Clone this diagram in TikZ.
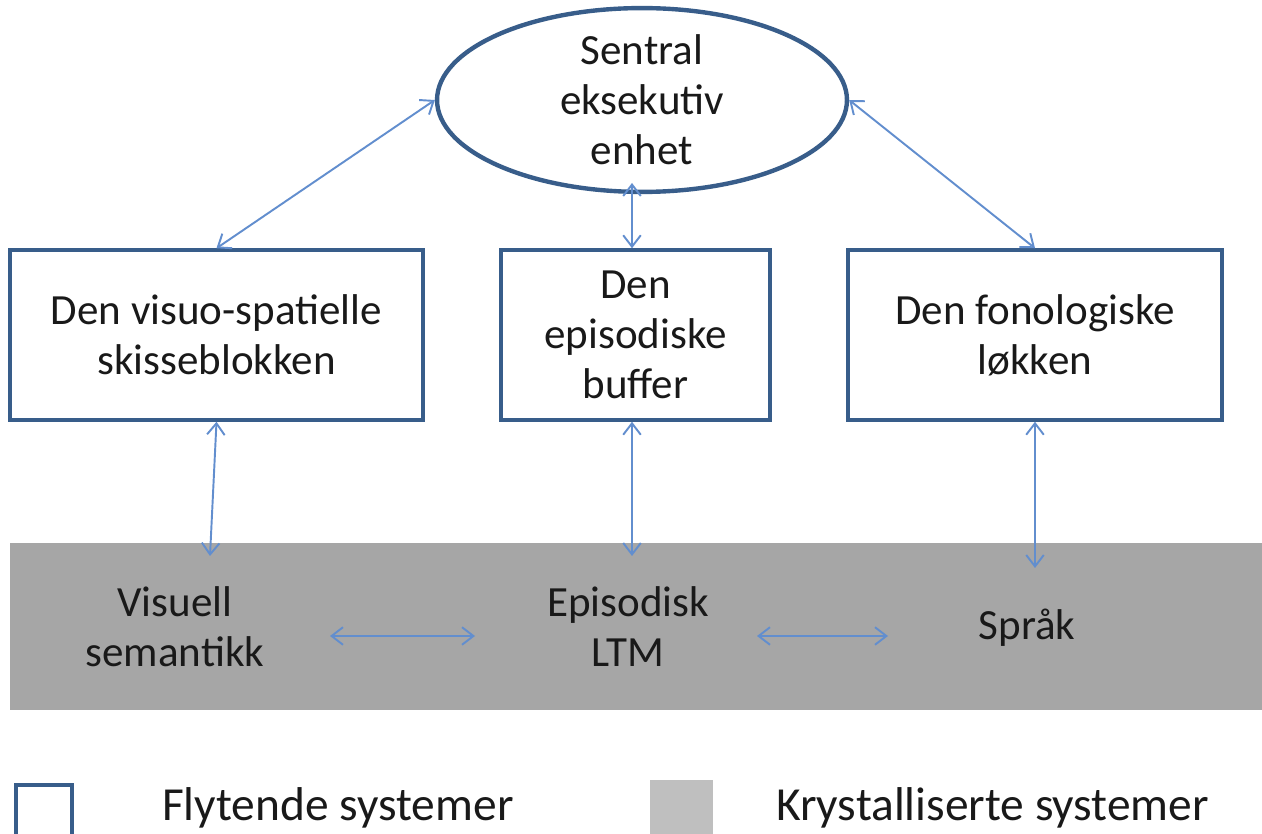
\documentclass[tikz,border=0pt]{standalone}
\usepackage{fontspec}
\setmainfont{Carlito}
\usetikzlibrary{arrows.meta,shapes.geometric}
\definecolor{frame}{RGB}{56,93,138}
\definecolor{link}{RGB}{98,142,206}
\definecolor{band}{RGB}{166,166,166}
\definecolor{lgrey}{RGB}{191,191,191}

\begin{document}
\begin{tikzpicture}[x=0.02cm,y=-0.02cm]
    \tikzset{%
      txt/.style={align=center, text=black!90,
        font=\fontsize{24.5}{28.4}\selectfont},
      box/.style={txt, draw=frame, line width=2pt, inner sep=0pt,
        minimum height=3.4cm},
      ell/.style={txt, ellipse, draw=frame, line width=2.5pt,
        inner sep=0pt, minimum width=8.2cm, minimum height=3.3cm},
      link/.style={draw=link, line width=1.1pt,
        arrows={Straight Barb[length=6.5pt,width=10pt]-Straight Barb[length=6.5pt,width=10pt]}},
      key/.style={anchor=west, text=black!90,
        font=\fontsize{27}{32}\selectfont},
    }
    \useasboundingbox (0,0) rectangle (1262,834);
    % grey band
    \node[fill=band, inner sep=0pt, minimum width=25.04cm,
      minimum height=3.34cm] (band) at (636,626.5) {};
    % central executive
    \node[ell] (ce) at (642,100) {Sentral\\eksekutiv\\enhet};
    % the three slave systems
    \node[box, minimum width=8.26cm] (vs) at (216.5,335)
      {Den visuo-spatielle\\skisseblokken};
    \node[box, minimum width=5.38cm] (eb) at (635.5,335)
      {Den\\episodiske\\buffer};
    \node[box, minimum width=7.48cm] (fl) at (1035,335)
      {Den fonologiske\\løkken};
    % crystallised systems
    \node[txt] (vis) at (175,627) {Visuell\\semantikk};
    \node[txt] (epi) at (628,627) {Episodisk\\LTM};
    \node[txt] (spr) at (1027,628) {Språk};
    \coordinate (ceb) at (632,183);
    \coordinate (vsb) at (210,556);
    \coordinate (ebb) at (632,556);
    \coordinate (flb) at (1035,568);
    \coordinate (h1) at (330,636);
    \coordinate (h2) at (475,636);
    \coordinate (h3) at (757,636);
    \coordinate (h4) at (888,636);
    % links
    \draw[link] (ce.west) -- (vs.north);
    \draw[link] (ce.east) -- (fl.north);
    \draw[link] (eb.north -| ceb) -- (ceb);
    \draw[link] (vs.south) -- (vsb);
    \draw[link] (eb.south -| ebb) -- (ebb);
    \draw[link] (fl.south) -- (flb);
    \draw[link] (h1) -- (h2);
    \draw[link] (h3) -- (h4);
    % legend
    \node[draw=frame, line width=2pt, inner sep=0pt, minimum width=1.12cm,
      minimum height=1.4cm, anchor=north west] (lfl) at (14,783) {};
    \node[key] (tfl) at (156,808) {Flytende systemer};
    \node[fill=lgrey, inner sep=0pt, minimum width=1.26cm,
      minimum height=1.4cm, anchor=north west] (lkr) at (650,780) {};
    \node[key] (tkr) at (770,808) {Krystalliserte systemer};
\end{tikzpicture}
\end{document}
